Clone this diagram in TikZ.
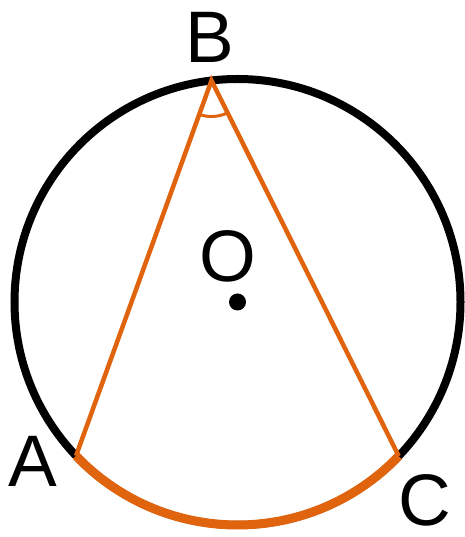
\documentclass[tikz,border=0pt]{standalone}
\usepackage{fontspec}
\setmainfont{Liberation Sans}
\usetikzlibrary{angles}
\definecolor{arcorange}{RGB}{224,100,14}
\tikzset{
  lbl/.style={inner sep=0pt, anchor=base, font=\fontsize{73}{80}\selectfont},
  circ/.style={draw=black, line width=8pt},
  side/.style={draw=arcorange, line width=4.5pt, line join=miter},
  bigarc/.style={draw=arcorange, line width=9pt},
}
\begin{document}
\begin{tikzpicture}[x=1pt,y=1pt]
\useasboundingbox (0,0) rectangle (464,537);
\coordinate (O) at (237.5,235);
\draw[circ] (O) circle (223);
\path (O) ++(223.6:223) coordinate (A);
\path (O) ++(316.3:223) coordinate (C);
\path (O) ++(96.7:223) coordinate (B);
\draw[bigarc] (A) arc[start angle=223.6, end angle=316.3, radius=223];
\draw[side] (A) -- (B) -- (C);
\pic[draw=arcorange, line width=3pt, angle radius=36pt] {angle=A--B--C};
\fill (O) circle (8.5);
\node[lbl] (lB) at (210,474) {B};
\node[lbl] (lA) at (33,50) {A};
\node[lbl] (lC) at (425,11) {C};
\node[lbl] (lO) at (228,255) {O};
\end{tikzpicture}
\end{document}
